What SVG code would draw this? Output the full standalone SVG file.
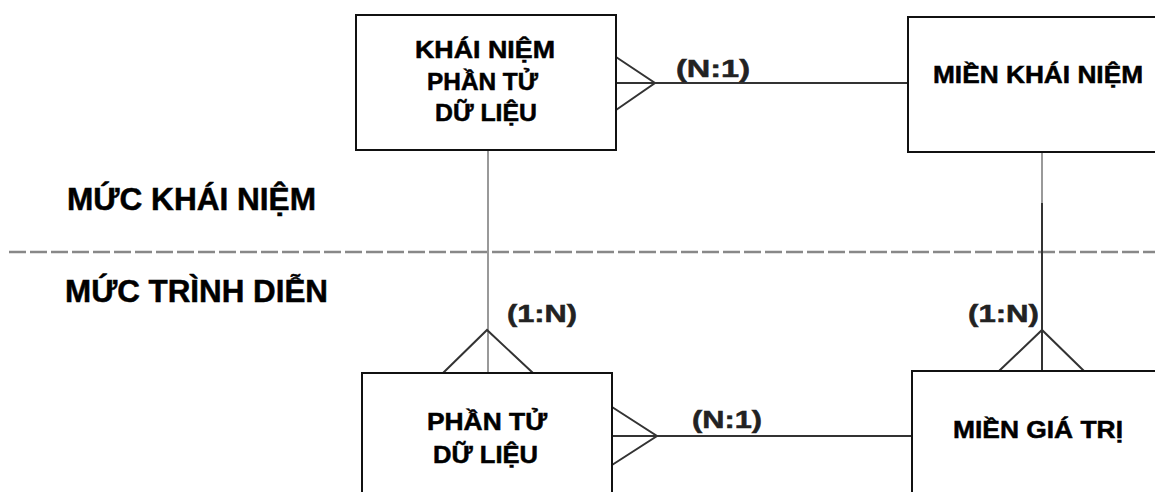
<svg xmlns="http://www.w3.org/2000/svg" width="1155" height="492" viewBox="0 0 1155 492">
<style>
.box{fill:#fff;stroke:#111;stroke-width:2}
.t{font-family:"Liberation Sans",Arial,sans-serif;font-weight:bold;font-size:23.5px;fill:#000;stroke:#000;stroke-width:0.5}
.lv{font-family:"Liberation Sans",Arial,sans-serif;font-weight:bold;font-size:31px;fill:#000;stroke:#000;stroke-width:0.5}
.lb{font-family:"Liberation Sans",Arial,sans-serif;font-weight:bold;font-size:23.5px;fill:#222;stroke:#222;stroke-width:0.5}
.c{fill:none;stroke:#333;stroke-width:2}
.g{fill:none;stroke:#999;stroke-width:2}
.d{fill:none;stroke:#888;stroke-width:2.5;stroke-dasharray:17 4}
</style>
<rect width="1155" height="492" fill="#fff"/>
<line class="d" x1="9" y1="252" x2="1155" y2="252"/>
<text class="lv" x="67" y="210" textLength="249" lengthAdjust="spacingAndGlyphs">MỨC KHÁI NIỆM</text>
<text class="lv" x="65" y="302" textLength="263" lengthAdjust="spacingAndGlyphs">MỨC TRÌNH DIỄN</text>
<g id="connectors">
<line class="g" x1="488" y1="150" x2="488" y2="373"/>
<line class="g" x1="1042" y1="152" x2="1042" y2="203"/>
<line class="c" x1="1042" y1="203" x2="1042" y2="371"/>
<path class="c" d="M616 57 L655 83 L616 110 M616 83 L908 83"/>
<path class="c" d="M443 373 L487 330 L533 373"/>
<path class="c" d="M999 371 L1042 330 L1084 371"/>
<path class="c" d="M612 407 L657 436 L612 465 M612 436 L912 436"/>
<text class="lb" x="676" y="77" textLength="74" lengthAdjust="spacingAndGlyphs">(N:1)</text>
<text class="lb" x="507" y="322" textLength="70" lengthAdjust="spacingAndGlyphs">(1:N)</text>
<text class="lb" x="692" y="428" textLength="70" lengthAdjust="spacingAndGlyphs">(N:1)</text>
<text class="lb" x="968" y="322" textLength="71" lengthAdjust="spacingAndGlyphs">(1:N)</text>
</g>
<g id="khai-niem-phan-tu-du-lieu">
<rect class="box" x="356" y="15" width="260" height="135"/>
<text class="t" x="415" y="58" textLength="140" lengthAdjust="spacingAndGlyphs">KHÁI NIỆM</text>
<text class="t" x="427" y="90" textLength="111" lengthAdjust="spacingAndGlyphs">PHẦN TỬ</text>
<text class="t" x="435" y="121" textLength="102" lengthAdjust="spacingAndGlyphs">DỮ LIỆU</text>
</g>
<g id="mien-khai-niem">
<rect class="box" x="908" y="17" width="262" height="135"/>
<text class="t" x="933" y="83" textLength="210" lengthAdjust="spacingAndGlyphs">MIỀN KHÁI NIỆM</text>
</g>
<g id="phan-tu-du-lieu">
<rect class="box" x="362" y="373" width="250" height="130"/>
<text class="t" x="427" y="430" textLength="120" lengthAdjust="spacingAndGlyphs">PHẦN TỬ</text>
<text class="t" x="433" y="463" textLength="105" lengthAdjust="spacingAndGlyphs">DỮ LIỆU</text>
</g>
<g id="mien-gia-tri">
<rect class="box" x="912" y="371" width="260" height="140"/>
<text class="t" x="953" y="438" textLength="170" lengthAdjust="spacingAndGlyphs">MIỀN GIÁ TRỊ</text>
</g>
</svg>
